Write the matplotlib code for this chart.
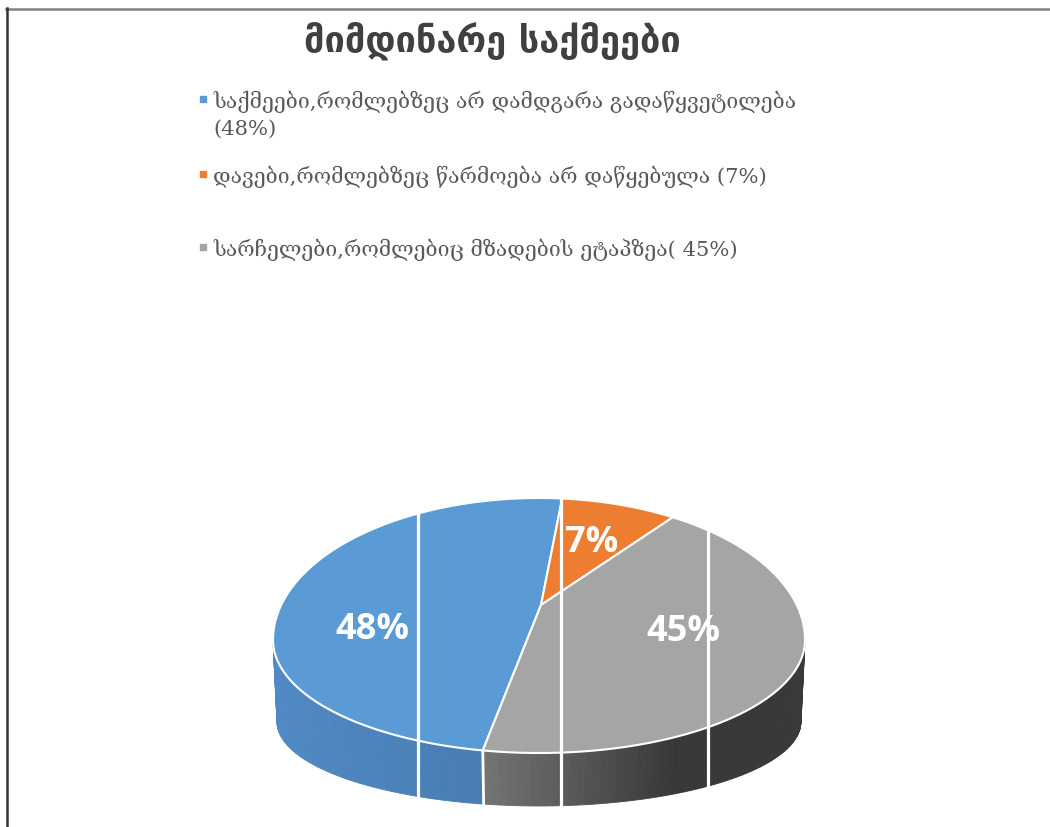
import numpy as np
import matplotlib.pyplot as plt
from matplotlib.patches import Polygon

# ---------- data
title = "მიმდინარე საქმეები"
labels = ["საქმეები,რომლებზეც არ დამდგარა გადაწყვეტილება\n(48%)",
          "დავები,რომლებზეც წარმოება არ დაწყებულა (7%)",
          "სარჩელები,რომლებიც მზადების ეტაპზეა( 45%)"]
values = [48, 7, 45]
top_colors = ["#5b9bd5", "#ed7d31", "#a5a5a5"]
side_left = ["#5189c4", "#c8641f", "#777777"]
side_right = ["#3b6897", "#b0581b", "#383838"]
pct_pos = [(372, 630), (592, 543), (683, 632)]

# ---------- pie geometry (pixel space, rough perspective)
cx, cy = 539, 640
a, b_up, b_dn = 266, 142, 113
apex = (541, 605)
cy2, b2, a2 = 722, 84, 262
start = 257.8

fig = plt.figure(figsize=(10.5, 8.27), dpi=100)
ax = fig.add_axes([0, 0, 1, 1])
ax.set_xlim(0, 1050)
ax.set_ylim(827, 0)
ax.axis('off')

def pt(t):
    r = np.radians(t)
    s = np.sin(r)
    return cx + a*np.cos(r), cy - (b_up if s > 0 else b_dn)*s

def pt_bot(t):
    r = np.radians(t)
    return cx + a2*np.cos(r), cy2 - b2*np.sin(r)

def hexmix(c1, c2, f):
    c1 = np.array([int(c1[i:i+2], 16) for i in (1, 3, 5)]) / 255
    c2 = np.array([int(c2[i:i+2], 16) for i in (1, 3, 5)]) / 255
    return tuple(c1 + (c2 - c1)*f)

t0 = start
wedges = []
for v in values:
    t1 = t0 - v*3.6
    wedges.append((t1, t0))
    t0 = t1

# side walls (front half only: 180..360)
for i, (t1, t0) in enumerate(wedges):
    lo, hi = t1 % 360, t1 % 360 + (t0 - t1)
    for off in (0, 360, -360):
        s, e = max(lo + off, 180), min(hi + off, 360)
        if e <= s:
            continue
        n = 60
        ts = np.linspace(s, e, n + 1)
        for k in range(n):
            x1, y1 = pt(ts[k])
            x2, y2 = pt(ts[k+1])
            bx1, by1 = pt_bot(ts[k])
            bx2, by2 = pt_bot(ts[k+1])
            xm = (x1 + x2) / 2
            f = np.clip((xm - 275) / 530, 0, 1) if i != 2 else np.clip((xm - 475) / 200, 0, 1)
            col = hexmix(side_left[i], side_right[i], f)
            ax.add_patch(Polygon([(x1, y1), (x2, y2), (bx2, by2), (bx1, by1)],
                                 closed=True, fc=col, ec=col, lw=0.6))

# white seam on the front side at the blue/gray border
xs, ys = pt(start)
xb, yb = pt_bot(start)
ax.plot([xs, xb], [ys, yb], color="white", lw=2)

# top faces
for i, (t1, t0) in enumerate(wedges):
    ts = np.linspace(t1, t0, 120)
    pts = [apex] + [pt(t) for t in ts]
    ax.add_patch(Polygon(pts, closed=True, fc=top_colors[i], ec="white", lw=1.5))

# scan streaks over the pie
for x in [418, 561, 708]:
    ax.plot([x, x], [490, 812], color="white", lw=2.3)

for (x, y), v in zip(pct_pos, values):
    ax.text(x, y, f"{v}%", color="white", fontsize=26, fontweight="bold",
            family=["Open Sans", "DejaVu Sans"], ha="center", va="center")

# title
ax.text(492, 42, title, fontsize=26, fontweight="bold", color="#404040",
        family=["DejaVu Sans"], ha="center", va="center")

# legend
leg_y = [100, 175, 248]
for y, lab, c in zip(leg_y, labels, top_colors):
    ax.scatter([203], [y - 1], marker="s", s=22, color=c)
    ax.text(213, y - 9, lab, fontsize=15.2, color="#595959", family=["DejaVu Serif", "DejaVu Sans"],
            ha="left", va="top", linespacing=1.45)

# page border
ax.plot([6, 1050], [8.5, 8.5], color="#808080", lw=1.8)
ax.plot([6.5, 6.5], [8, 827], color="#333333", lw=1.8)

fig.savefig("out.png", dpi=100)
